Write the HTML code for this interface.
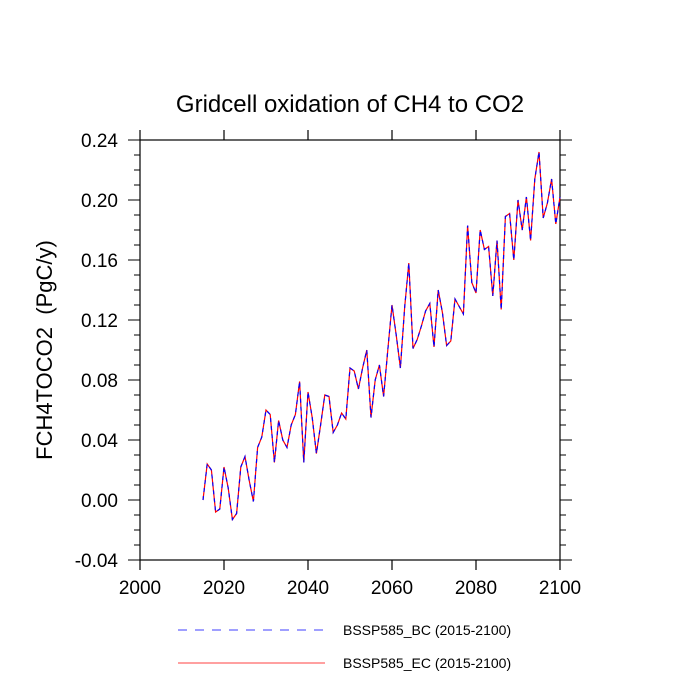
<!DOCTYPE html>
<html><head><meta charset="utf-8"><style>body{margin:0;background:#fff}svg{display:block}</style></head>
<body>
<svg id="chart" width="700" height="700" xmlns="http://www.w3.org/2000/svg" font-family="'Liberation Sans', sans-serif">
<rect width="700" height="700" fill="#fff"/>
<text x="350" y="112" font-size="24" text-anchor="middle">Gridcell oxidation of CH4 to CO2</text>
<text transform="translate(52,350) rotate(-90)" font-size="22" text-anchor="middle" style="white-space:pre" xml:space="preserve">FCH4TOCO2  (PgC/y)</text>
<g id="axes"></g>
<g id="series"></g>
<g>
<line x1="178" y1="630" x2="325" y2="630" stroke="#00f" stroke-width="0.8" stroke-dasharray="9,8"/>
<text x="343" y="635" font-size="14">BSSP585_BC (2015-2100)</text>
<line x1="178" y1="663" x2="325" y2="663" stroke="#f00" stroke-width="0.8"/>
<text x="343" y="668" font-size="14">BSSP585_EC (2015-2100)</text>
</g>
</svg>
<script>
const startYear = 2015;
const valuesBC = [0.000,0.024,0.020,-0.008,-0.006,0.022,0.008,-0.013,-0.009,0.022,0.029,0.013,-0.001,0.035,0.042,0.060,0.057,0.025,0.053,0.040,0.035,0.050,0.057,0.079,0.025,0.072,0.055,0.031,0.050,0.070,0.069,0.045,0.050,0.058,0.054,0.088,0.086,0.074,0.088,0.100,0.055,0.080,0.090,0.069,0.100,0.130,0.110,0.088,0.128,0.158,0.101,0.107,0.116,0.126,0.131,0.102,0.140,0.125,0.103,0.106,0.134,0.129,0.124,0.183,0.145,0.138,0.180,0.167,0.169,0.136,0.173,0.127,0.189,0.191,0.160,0.200,0.180,0.202,0.173,0.214,0.232,0.188,0.198,0.214,0.184,0.202];
const valuesEC = valuesBC.slice();
const xTicks = [2000,2020,2040,2060,2080,2100];
const yTicks = [-0.04,0.00,0.04,0.08,0.12,0.16,0.20,0.24];
const L=140,R=560,T=140,B=560;
const xs = v => L + (v-2000)/100*(R-L);
const ys = v => B - (v+0.04)/0.28*(B-T);
const NS="http://www.w3.org/2000/svg";
const ax=document.getElementById('axes');
function mk(tag,attrs,parent){const e=document.createElementNS(NS,tag);for(const k in attrs)e.setAttribute(k,attrs[k]);parent.appendChild(e);return e;}
const frame=mk('rect',{x:L,y:T,width:R-L,height:B-T,fill:'none',stroke:'#000','stroke-width':1.2},ax);


xTicks.forEach(t=>{
  const x=xs(t);
  mk('line',{x1:x,y1:B,x2:x,y2:B+10,stroke:'#000','stroke-width':1.2},ax);
  mk('line',{x1:x,y1:T,x2:x,y2:T-10,stroke:'#000','stroke-width':1.2},ax);
  const tx=mk('text',{x:x,y:B+34,'font-size':19,'text-anchor':'middle'},ax);
  tx.textContent=t;
  
  
});
for(let v=-0.04;v<=0.2401;v+=0.01){
  const y=ys(v);const major=Math.abs(Math.round(v*100)%4)===0;const len=major?12:6;
  mk('line',{x1:L,y1:y,x2:L-len,y2:y,stroke:'#000','stroke-width':1},ax);
  mk('line',{x1:R,y1:y,x2:R+len,y2:y,stroke:'#000','stroke-width':1},ax);
}
yTicks.forEach(t=>{
  const tx=mk('text',{x:L-22,y:ys(t)+7,'font-size':19,'text-anchor':'end'},ax);
  tx.textContent=t.toFixed(2);
  
  
});
const sg=document.getElementById('series');
function pts(arr){return arr.map((v,i)=>xs(startYear+i).toFixed(1)+','+ys(v).toFixed(1)).join(' ');}
const pEC=mk('polyline',{points:pts(valuesEC),fill:'none',stroke:'#f00','stroke-width':1.2},sg);


const pBC=mk('polyline',{points:pts(valuesBC),fill:'none',stroke:'#00f','stroke-width':1.2,'stroke-dasharray':'4,4'},sg);


</script>
</body></html>
